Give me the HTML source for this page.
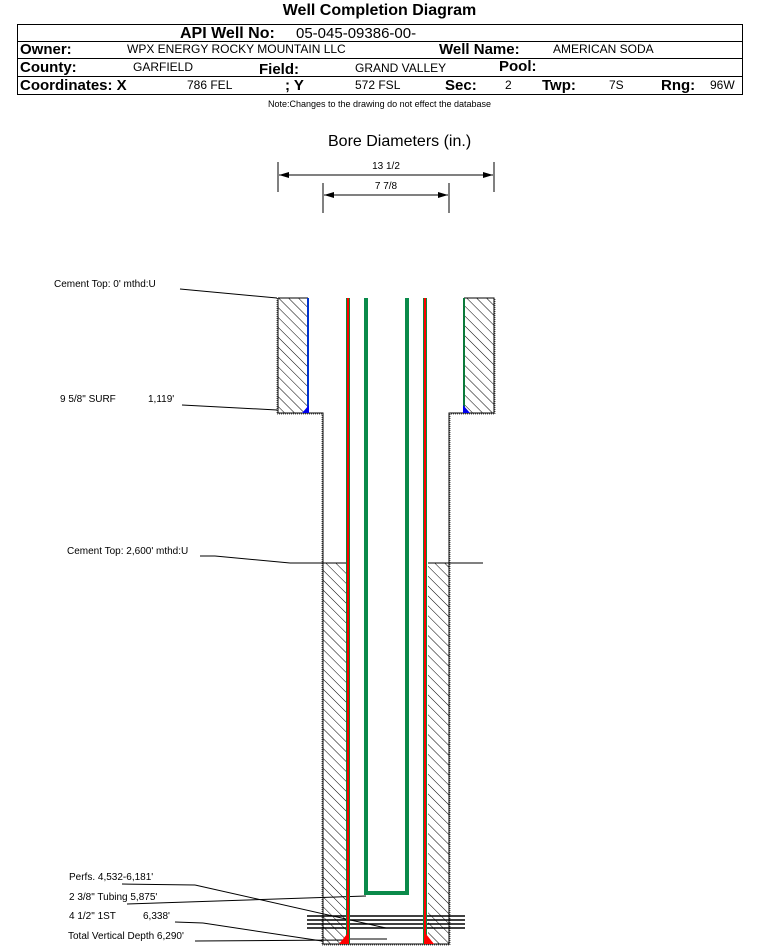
<!DOCTYPE html>
<html><head><style>
body{margin:0;background:#fff;width:759px;height:946px;overflow:hidden;font-family:"Liberation Sans",sans-serif}
.t{position:absolute;white-space:nowrap;line-height:1}
.b{font-weight:bold;font-size:15px}
.v{font-size:12px}
</style></head><body>
<div class="t b" style="left:0;width:759px;text-align:center;top:3px;font-size:16px">Well Completion Diagram</div>
<div style="position:absolute;left:17px;top:24px;width:724px;height:69px;border:1px solid #000"></div>
<div style="position:absolute;left:17px;top:41px;width:725px;height:1px;background:#000"></div>
<div style="position:absolute;left:17px;top:58px;width:725px;height:1px;background:#000"></div>
<div style="position:absolute;left:17px;top:76px;width:725px;height:1px;background:#000"></div>
<div class="t b" style="left:180px;top:26px;font-size:16px">API Well No:</div>
<div class="t" style="left:296px;top:26px;font-size:15px">05-045-09386-00-</div>
<div class="t b" style="left:20px;top:42px">Owner:</div>
<div class="t v" style="left:127px;top:43px">WPX ENERGY ROCKY MOUNTAIN LLC</div>
<div class="t b" style="left:439px;top:42px">Well Name:</div>
<div class="t v" style="left:553px;top:43px">AMERICAN SODA</div>
<div class="t b" style="left:20px;top:60px">County:</div>
<div class="t v" style="left:133px;top:61px">GARFIELD</div>
<div class="t b" style="left:259px;top:62px">Field:</div>
<div class="t v" style="left:355px;top:62px">GRAND VALLEY</div>
<div class="t b" style="left:499px;top:59px">Pool:</div>
<div class="t b" style="left:20px;top:78px">Coordinates: X</div>
<div class="t v" style="left:187px;top:79px">786 FEL</div>
<div class="t b" style="left:285px;top:78px">; Y</div>
<div class="t v" style="left:355px;top:79px">572 FSL</div>
<div class="t b" style="left:445px;top:78px">Sec:</div>
<div class="t v" style="left:505px;top:79px">2</div>
<div class="t b" style="left:542px;top:78px">Twp:</div>
<div class="t v" style="left:609px;top:79px">7S</div>
<div class="t b" style="left:661px;top:78px">Rng:</div>
<div class="t v" style="left:710px;top:79px">96W</div>
<div class="t" style="left:0;width:759px;text-align:center;top:100px;font-size:9px">Note:Changes to the drawing do not effect the database</div>
<div class="t" style="left:328px;top:134px;font-size:16px">Bore Diameters (in.)</div>
<svg width="759" height="946" style="position:absolute;left:0;top:0" xmlns="http://www.w3.org/2000/svg">
<defs>
<pattern id="h" width="7" height="7" patternUnits="userSpaceOnUse" patternTransform="rotate(-45)">
<line x1="0" y1="0" x2="0" y2="7" stroke="#000" stroke-width="1"/></pattern>
<marker id="a" markerWidth="10" markerHeight="6" refX="10" refY="3" orient="auto-start-reverse"><path d="M0,0L10,3L0,6z" fill="#000"/></marker>
</defs>
<g font-family="Liberation Sans, sans-serif" font-size="10" fill="#000">
<text x="386" y="169" text-anchor="middle">13 1/2</text>
<text x="386" y="189" text-anchor="middle">7 7/8</text>
<text x="54" y="287">Cement Top: 0' mthd:U</text>
<text x="60" y="402">9 5/8" SURF</text><text x="148" y="402">1,119'</text>
<text x="67" y="554">Cement Top: 2,600' mthd:U</text>
<text x="69" y="880">Perfs. 4,532-6,181'</text>
<text x="69" y="900">2 3/8" Tubing 5,875'</text>
<text x="69" y="919">4 1/2" 1ST</text><text x="143" y="919">6,338'</text>
<text x="68" y="939">Total Vertical Depth 6,290'</text>
</g>
<g stroke="#000" stroke-width="1" fill="none">
<line x1="278" y1="162" x2="278" y2="192"/><line x1="494" y1="162" x2="494" y2="192"/>
<line x1="279" y1="175" x2="493" y2="175" marker-start="url(#a)" marker-end="url(#a)"/>
<line x1="323" y1="183" x2="323" y2="213"/><line x1="449" y1="183" x2="449" y2="213"/>
<line x1="324" y1="195" x2="448" y2="195" marker-start="url(#a)" marker-end="url(#a)"/>
</g>
<rect x="278" y="298" width="30" height="115" fill="url(#h)"/>
<rect x="464" y="298" width="30" height="115" fill="url(#h)"/>
<rect x="323" y="563" width="23" height="381" fill="url(#h)"/>
<rect x="428" y="563" width="21" height="381" fill="url(#h)"/>
<g fill="none" stroke="#000" stroke-width="1">
<path d="M278,298H308M278,298V413H323V944H449V413H494V298H464"/>
<path d="M277,298V414H322V945H450V414H495V298" stroke="#555" stroke-dasharray="1,1"/>
<line x1="180" y1="289" x2="277" y2="298"/>
<line x1="182" y1="405" x2="277" y2="410"/>
<line x1="200" y1="556" x2="215" y2="556"/><line x1="215" y1="556" x2="290" y2="563"/>
<line x1="290" y1="563" x2="346" y2="563"/><line x1="428" y1="563" x2="483" y2="563"/>
<line x1="122" y1="884" x2="195" y2="885"/><line x1="195" y1="885" x2="386" y2="928"/>
<line x1="127" y1="904" x2="366" y2="896"/>
<line x1="175" y1="922" x2="203" y2="923"/><line x1="203" y1="923" x2="322" y2="941"/>
<line x1="195" y1="941" x2="346" y2="940"/><line x1="350" y1="939" x2="387" y2="939"/>
</g>
<g stroke="#000" stroke-width="1.5">
<line x1="307" y1="916" x2="465" y2="916"/><line x1="307" y1="920" x2="465" y2="920"/>
<line x1="307" y1="924" x2="465" y2="924"/><line x1="307" y1="928" x2="465" y2="928"/>
</g>
<line x1="308" y1="298" x2="308" y2="413" stroke="#0033cc" stroke-width="2"/>
<line x1="464" y1="298" x2="464" y2="413" stroke="#0a7a3a" stroke-width="2"/>
<path d="M302,413L309,405V413Z" fill="#0000ee"/><path d="M463,405L470,413H463Z" fill="#0000ee"/>
<g stroke-width="4" fill="none">
<line x1="348" y1="298" x2="348" y2="944" stroke="#0a8a3a"/>
<line x1="425" y1="298" x2="425" y2="944" stroke="#0a8a3a"/>
<path d="M366,298V893H407V298" stroke="#0a8a4a"/>
</g>
<line x1="348" y1="298" x2="348" y2="944" stroke="#ff0000" stroke-width="2"/>
<line x1="425" y1="298" x2="425" y2="944" stroke="#ff0000" stroke-width="2"/>
<path d="M339,944L347,934V944Z" fill="#ff0000"/><path d="M426,934L434,944H426Z" fill="#ff0000"/>
</svg>
</body></html>
